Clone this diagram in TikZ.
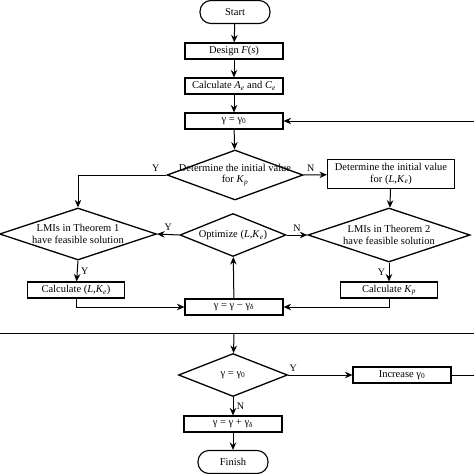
\documentclass[tikz,border=0pt]{standalone}
\usepackage{fontspec}
\setmainfont{Liberation Serif}
\usetikzlibrary{shapes.geometric,arrows.meta}

\begin{document}
\begin{tikzpicture}[x=1pt,y=-1pt,font=\fontsize{10.5}{11.5}\selectfont,
box/.style={draw, line width=1.1pt, minimum width=98pt, minimum height=16pt, inner sep=1pt},
term/.style={draw, line width=1.1pt, rounded corners=11pt, minimum width=70pt, minimum height=23pt},
dec/.style={draw, diamond, line width=1.3pt, inner sep=0pt},
flow/.style={-{Stealth[length=7.5pt,width=6.5pt]}, line width=1pt},
yn/.style={font=\fontsize{10}{11}\selectfont}]

\useasboundingbox (0,0) rectangle (474,474);

% main column
\node[term] (start) at (235,12) {Start};
\node[box] (design) at (234,51) {Design \textit{F}(\textit{s})};
\node[box] (calc) at (234,86) {Calculate \textit{A}\textsubscript{\textit{e}} and \textit{C}\textsubscript{\textit{e}}};
\node[box] (g0) at (234,121) {γ = γ\textsubscript{0}};
\node[dec, minimum width=136pt, minimum height=50pt] (kp) at (235,175) {};
\node[align=center] at (kp) {Determine the initial value\\for \textit{K}\textsubscript{\textit{p}}};
\node[box, minimum width=127pt, minimum height=29pt, align=center] (init) at (391,174) {Determine the initial value\\for (\textit{L},\textit{K}\textsubscript{\textit{e}})};

% feasibility tests
\node[dec, minimum width=157pt, minimum height=52pt] (lmi1) at (78,234) {};
\node[align=center] at (lmi1) {LMIs in Theorem 1\\have feasible solution};
\node[dec, minimum width=106pt, minimum height=43pt] (opt) at (233,235) {};
\node at (opt) {Optimize (\textit{L},\textit{K}\textsubscript{\textit{e}})};
\node[dec, minimum width=162pt, minimum height=54pt] (lmi2) at (389,235) {};
\node[align=center] at (lmi2) {LMIs in Theorem 2\\have feasible solution};
\node[box, minimum width=97pt] (cl) at (76,290) {Calculate (\textit{L},\textit{K}\textsubscript{\textit{e}})};
\node[box, minimum width=97pt] (ckp) at (389,290) {Calculate \textit{K}\textsubscript{\textit{p}}};
\node[box] (gm) at (234,307) {γ = γ − γ\textsubscript{δ}};

% lower part
\node[dec, minimum width=109pt, minimum height=43pt] (eq) at (233,375) {};
\node at (eq) {γ = γ\textsubscript{0}};
\node[box] (inc) at (402,375) {Increase γ\textsubscript{0}};
\node[box] (gp) at (233,424) {γ = γ + γ\textsubscript{δ}};
\node[term] (fin) at (233,462) {Finish};

\coordinate (rin) at (474,121);
\coordinate (hl) at (0,333);
\coordinate (hr) at (474,333);
\coordinate (j) at (234,333);
\coordinate (rout) at (474,375);

% connectors
\draw[flow] (start) -- (design);
\draw[flow] (design) -- (calc);
\draw[flow] (calc) -- (g0);
\draw[flow] (g0) -- (kp);
\draw[flow] (rin) -- (g0);
\draw[flow] (kp.west) -| node[yn, pos=0.06, above] {Y} (lmi1.north);
\draw[flow] (kp.east) -- node[yn, pos=0.3, above] {N} (init);
\draw[flow] (init) -- (lmi2);
\draw[flow] (opt.west) -- node[yn, above] {Y} (lmi1.east);
\draw[flow] (opt.east) -- node[yn, above] {N} (lmi2.west);
\draw[flow] (lmi1.south) -- node[yn, right] {Y} (cl);
\draw[flow] (lmi2.south) -- node[yn, left] {Y} (ckp);
\draw[flow] (cl.south) |- (gm.west);
\draw[flow] (ckp.south) |- (gm.east);
\draw[flow] (gm) -- (opt);
\draw[line width=1pt] (hl) -- (hr);
\draw[flow] (j) -- (eq);
\draw[flow] (eq.east) -- node[yn, pos=0.08, above] {Y} (inc);
\draw[line width=1pt] (inc) -- (rout);
\draw[flow] (eq.south) -- node[yn, right] {N} (gp);
\draw[flow] (gp) -- (fin);
\end{tikzpicture}
\end{document}
